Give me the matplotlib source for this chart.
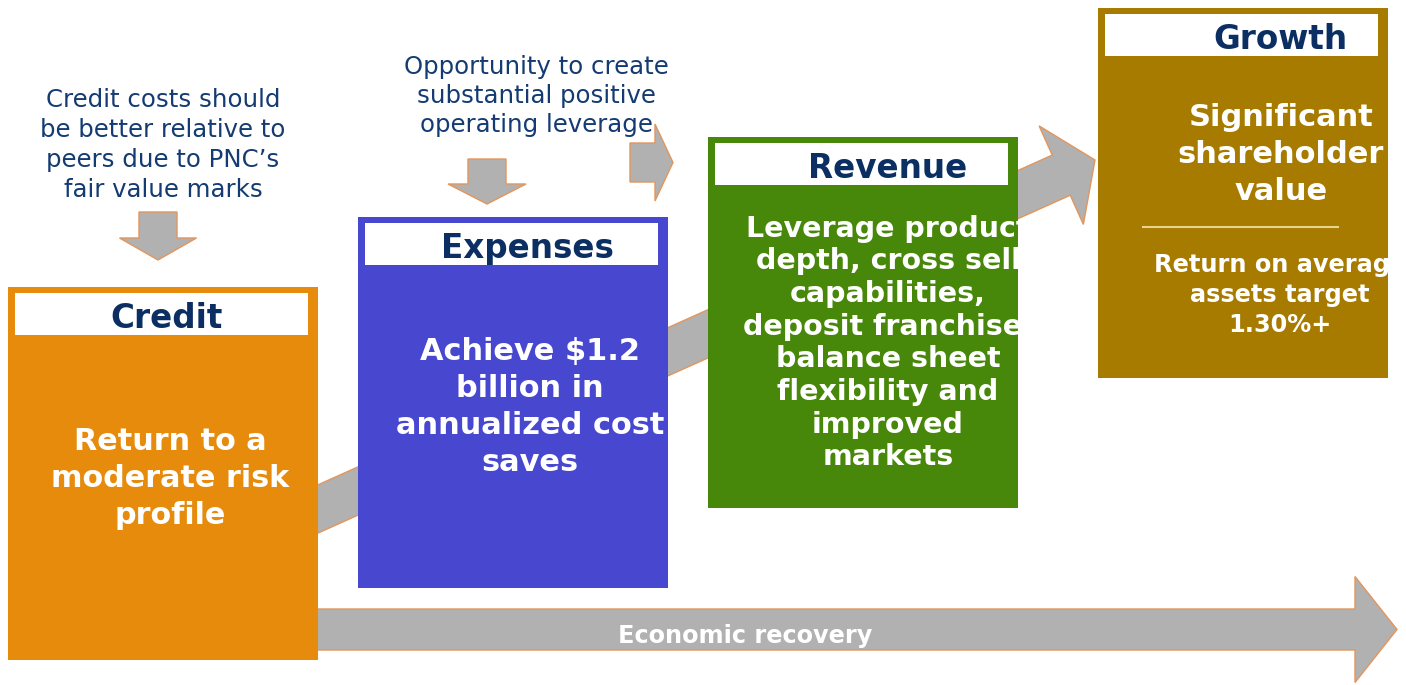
import matplotlib.pyplot as plt
from matplotlib.patches import FancyArrow, Rectangle

# text content
TITLES = ["Credit", "Expenses", "Revenue", "Growth"]
BODIES = [
    ["Return to a", "moderate risk", "profile"],
    ["Achieve $1.2", "billion in", "annualized cost", "saves"],
    ["Leverage product", "depth, cross sell", "capabilities,", "deposit franchise,",
     "balance sheet", "flexibility and", "improved", "markets"],
    ["Significant", "shareholder", "value"],
]
GROWTH_TARGET = ["Return on average", "assets target", "1.30%+"]
NOTE_CREDIT = ["Credit costs should", "be better relative to", "peers due to PNC\u2019s",
               "fair value marks"]
NOTE_EXPENSE = ["Opportunity to create", "substantial positive", "operating leverage"]
RECOVERY_LABEL = "Economic recovery"

# layout (pixel coords, y down)
BOX_COLORS = ["#E68B0B", "#4847D0", "#478709", "#A77B00"]
BOXES = [(8, 287, 310, 373), (358, 217, 310, 371), (708, 137, 310, 371), (1098, 8, 290, 370)]
TITLE_X = [167, 527, 888, 1280]
BODY_CY = [475, 404, 340, 151]
BODY_CX = [170, 530, 888, 1281]
BODY_SPACING = [37, 37, 32.7, 37]
BODY_SIZE = [21.8, 21.9, 20.5, 22]

NAVY = "#0B2F62"
NOTE_COLOR = "#143C72"
GRAY = "#B1B1B1"
EDGE = "#E2965C"


def arrow(ax, x0, y0, x1, y1, width, head_width, head_length, z=1):
    ax.add_patch(FancyArrow(x0, y0, x1 - x0, y1 - y0, width=width,
                            head_width=head_width, head_length=head_length,
                            length_includes_head=True, facecolor=GRAY,
                            edgecolor=EDGE, linewidth=1.0, zorder=z))


def lines(ax, texts, cx, cy, spacing, **kw):
    n = len(texts)
    out = []
    for i, t in enumerate(texts):
        y = cy + (i - (n - 1) / 2) * spacing
        out.append(ax.text(cx, y, t, ha="center", va="center_baseline", **kw))
    return out


def main() -> None:
    fig = plt.figure(figsize=(14.06, 6.85), dpi=100)
    ax = fig.add_axes([0, 0, 1, 1])
    ax.set_xlim(0, 1406)
    ax.set_ylim(685, 0)
    ax.axis("off")

    # background arrows
    arrow(ax, 250, 539.5, 1095, 160, 44, 108, 37)
    arrow(ax, 300, 629.5, 1397, 629.5, 41, 106, 42)
    arrow(ax, 158, 212, 158, 260, 38, 77, 22)
    arrow(ax, 487, 159, 487, 204, 38, 78, 20)
    arrow(ax, 630, 162.5, 673, 162.5, 39, 77, 18)

    for i, (x, y, w, h) in enumerate(BOXES):
        box = Rectangle((x, y), w, h, facecolor=BOX_COLORS[i], edgecolor="none", zorder=3)
        ax.add_patch(box)
        ax.add_patch(Rectangle((x + 7, y + 6), w - 17, 42, facecolor="white",
                               edgecolor="none", zorder=4))
        ax.text(TITLE_X[i], y + 28, TITLES[i], ha="center", va="center_baseline",
                fontsize=23.5, fontweight="bold", color=NAVY, zorder=5)
        for t in lines(ax, BODIES[i], BODY_CX[i], BODY_CY[i], BODY_SPACING[i],
                       fontsize=BODY_SIZE[i], fontweight="bold", color="white",
                       zorder=5, clip_on=True):
            t.set_clip_path(box)

    growth = ax.patches[-2]
    ax.plot([1143, 1338], [227, 227], color="#E6D58A", lw=1.5, zorder=5)
    for t in lines(ax, GROWTH_TARGET, 1280, 292, 30, fontsize=17.3,
                   fontweight="bold", color="white", zorder=5, clip_on=True):
        t.set_clip_path(growth)

    lines(ax, NOTE_CREDIT, 163, 142.5, 29.7, fontsize=17.6, color=NOTE_COLOR)
    lines(ax, NOTE_EXPENSE, 536, 93, 29, fontsize=17.6, color=NOTE_COLOR)
    ax.text(745, 634, RECOVERY_LABEL, ha="center", va="center_baseline",
            fontsize=17.3, fontweight="bold", color="white", zorder=5)

    fig.savefig("out.png", dpi=100, facecolor="white")


if __name__ == "__main__":
    main()
